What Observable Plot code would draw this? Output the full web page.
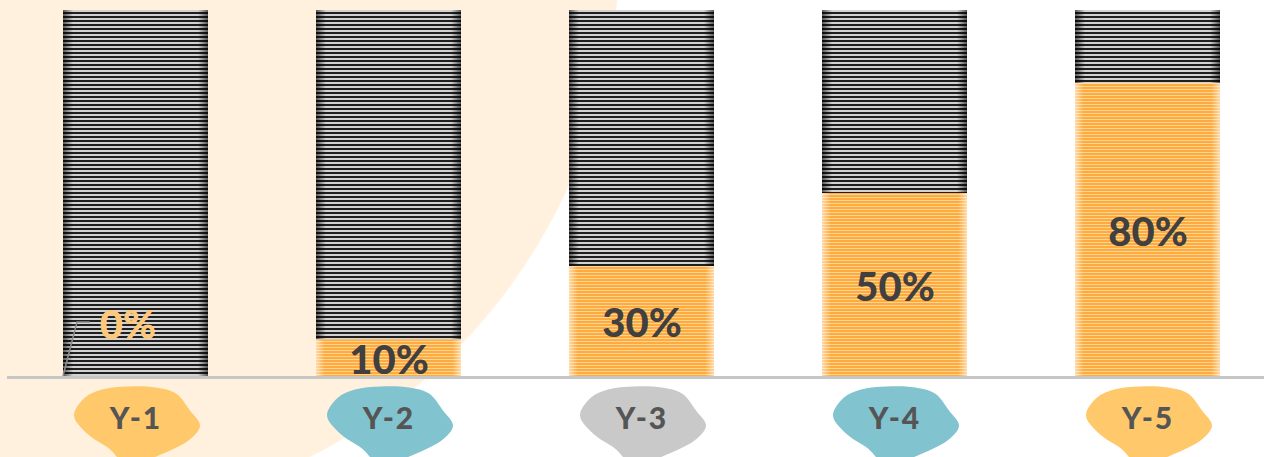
<!DOCTYPE html>
<html><head><meta charset="utf-8">
<script src="https://cdn.jsdelivr.net/npm/d3@7"></script>
<script src="https://cdn.jsdelivr.net/npm/@observablehq/plot@0.6"></script>
<style>
html,body{margin:0;padding:0;background:#fff;}
#chart{width:1264px;height:457px;overflow:hidden;
 background:radial-gradient(circle 568px at 52px -48px,#fff1de 99.7%,#ffffff 100%);}
#chart svg{background:transparent;overflow:visible;}
</style></head><body><div id="chart"></div>
<script>
const categories = ["Y-1","Y-2","Y-3","Y-4","Y-5"];
const values = [0, 0.1, 0.3, 0.5, 0.8];
const labels = ["0%","10%","30%","50%","80%"];
const blobColors = ["#ffc96b","#81c3cf","#c9c9c9","#81c3cf","#ffc96b"];

const rows = categories.map((c,i)=>({cat:c, value:values[i], label:labels[i], blob:blobColors[i]}));

function defs() {
  const d = document.createElementNS("http://www.w3.org/2000/svg","defs");
  d.innerHTML = `
  <pattern id="darkStripes" patternUnits="userSpaceOnUse" width="8" height="4">
    <rect width="8" height="4" fill="#d2d2d2"/><rect width="8" height="2" fill="#1f1f1f"/></pattern>
  <pattern id="orangeStripes" patternUnits="userSpaceOnUse" width="8" height="3">
    <rect width="8" height="3" fill="#ffd596"/><rect width="8" height="2" fill="#ffaa3d"/></pattern>
  <linearGradient id="darkEdge" x1="0" x2="1" y1="0" y2="0">
    <stop offset="0" stop-color="#000" stop-opacity="0.6"/>
    <stop offset="0.07" stop-color="#000" stop-opacity="0"/>
    <stop offset="0.93" stop-color="#000" stop-opacity="0"/>
    <stop offset="1" stop-color="#000" stop-opacity="0.6"/></linearGradient>
  <linearGradient id="orangeEdge" x1="0" x2="1" y1="0" y2="0">
    <stop offset="0" stop-color="#fff" stop-opacity="0.55"/>
    <stop offset="0.06" stop-color="#fff" stop-opacity="0"/>
    <stop offset="0.94" stop-color="#fff" stop-opacity="0"/>
    <stop offset="1" stop-color="#fff" stop-opacity="0.55"/></linearGradient>`;
  return d;
}

function leader(index, scales) {
  const g = d3.create("svg:g");
  rows.filter(d => d.value === 0).forEach(d => {
    const x0 = scales.x(d.cat), y0 = scales.y(0);
    g.append("path")
      .attr("d", `M${x0},${y0}L${x0+14},${y0-54}H${x0+27}`)
      .attr("fill","none").attr("stroke","#8c8c8c").attr("stroke-width",1.5);
  });
  return g.node();
}

const blobShape = [[-62,-5],[-51,-23],[-34,-31],[-8,-34],[20,-33],[40,-27],[54,-10],[64,5],[55,18],[25,34],[-9,44],[-27,28],[-49,13]];
const blobSymbol = {
  draw(ctx) {
    d3.line().curve(d3.curveCatmullRomClosed.alpha(0.5)).context(ctx)(blobShape);
  }
};

const font = "Lato, 'Open Sans', sans-serif";

const chart = Plot.plot({
  width: 1264, height: 457,
  marginTop: 10, marginBottom: 81, marginLeft: 7, marginRight: 0,
  style: {background: "transparent", overflow: "visible"},
  x: {type: "band", domain: categories, range: [61, 1222], paddingInner: 0.425, paddingOuter: 0, axis: null},
  y: {domain: [0, 1], axis: null},
  color: {type: "identity"},
  marks: [
    defs,
    Plot.barY(rows, {x: "cat", y1: "value", y2: () => 1, fill: "url(#darkStripes)"}),
    Plot.barY(rows, {x: "cat", y1: "value", y2: () => 1, fill: "url(#darkEdge)"}),
    Plot.barY(rows.filter(d => d.value > 0), {x: "cat", y1: () => 0, y2: "value", fill: "url(#orangeStripes)"}),
    Plot.barY(rows.filter(d => d.value > 0), {x: "cat", y1: () => 0, y2: "value", fill: "url(#orangeEdge)"}),
    Plot.ruleY([0], {stroke: "#c6c6c6", strokeWidth: 3, dy: 1}),
    Plot.text(rows.filter(d => d.value > 0), {x: "cat", y: d => d.value / 2, text: "label", dy: 3,
      fill: "#404040", fontSize: 40, fontWeight: 900, fontFamily: font, lineAnchor: "middle"}),
    Plot.text(rows.filter(d => d.value === 0), {x: "cat", y: () => 0, text: "label", dx: -8, dy: -50,
      fill: "#ffc878", fontSize: 40, fontWeight: 900, fontFamily: font, lineAnchor: "middle"}),
    leader,
    Plot.dot(rows, {x: "cat", y: () => 0, dy: 44, r: 10, symbol: blobSymbol, fill: "blob", stroke: null}),
    Plot.text(rows, {x: "cat", y: () => 0, dy: 43, text: "cat", fill: "#555555",
      fontSize: 30, fontWeight: 900, fontFamily: font, lineAnchor: "middle"})
  ]
});
chart.querySelectorAll("text").forEach(t => {
  if (categories.includes(t.textContent)) t.setAttribute("letter-spacing", "2");
});
document.getElementById("chart").appendChild(chart);
</script>
</body></html>
